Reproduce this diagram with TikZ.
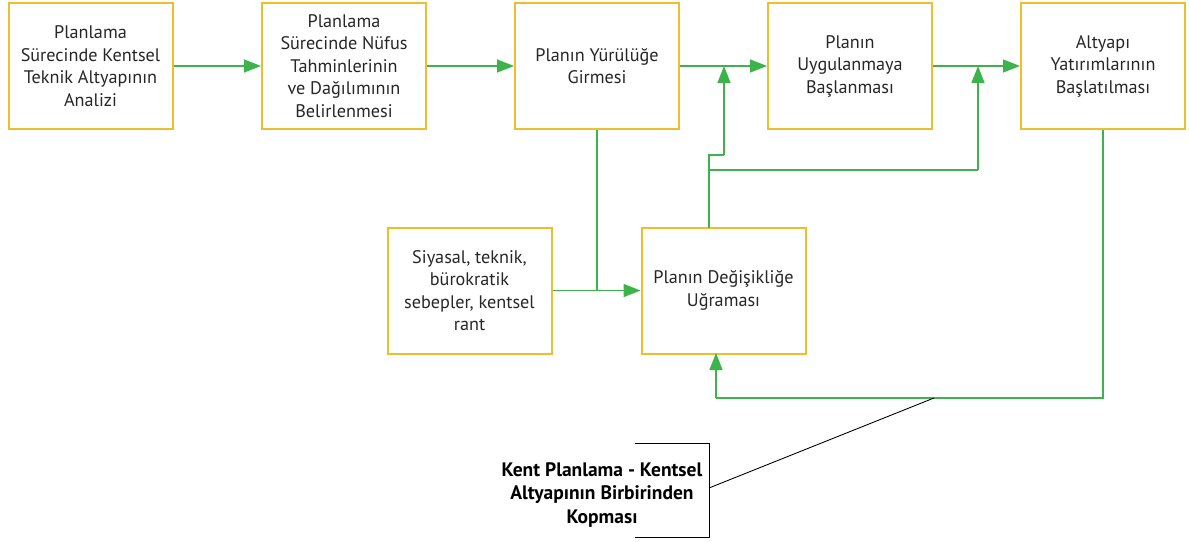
\documentclass[tikz,border=0pt]{standalone}
\usepackage{fontspec}
\setmainfont{PT Sans}
\usetikzlibrary{arrows.meta}
\definecolor{boxy}{RGB}{240,190,44}
\definecolor{gr}{RGB}{60,180,75}
\tikzset{
  box/.style={draw=boxy,line width=2pt,minimum width=164pt,minimum height=126pt,inner sep=2pt,align=center,font=\fontsize{18.2}{22.5}\selectfont,text=black!85},
  conn/.style={draw=gr,line width=1.6pt},
  arr/.style={conn,-{Triangle[length=17pt,width=13pt]}},
}
\begin{document}
\begin{tikzpicture}[x=1pt,y=-1pt]
\useasboundingbox (0,0) rectangle (1189,541);
\node[box] (b1) at (90.5,66) {Planlama\\Sürecinde Kentsel\\Teknik Altyapının\\Analizi};
\node[box] (b2) at (344,66) {Planlama\\Sürecinde Nüfus\\Tahminlerinin\\ve Dağılımının\\Belirlenmesi};
\node[box] (b3) at (597,66) {Planın Yürülüğe\\Girmesi};
\node[box] (b4) at (850,66) {Planın\\Uygulanmaya\\Başlanması};
\node[box] (b5) at (1103,66) {Altyapı\\Yatırımlarının\\Başlatılması};
\node[box] (b6) at (469.5,290.5) {Siyasal, teknik,\\bürokratik\\sebepler, kentsel\\rant};
\node[box] (b7) at (723.5,290.5) {Planın Değişikliğe\\Uğraması};
\node[align=center,font=\bfseries\fontsize{19.5}{23.5}\selectfont] (lbl) at (602,495) {Kent Planlama - Kentsel\\Altyapının Birbirinden\\Kopması};
% coordinates
\coordinate (j1) at (597,290.5);
\coordinate (t7) at (709,228);
\coordinate (s1) at (709,155);
\coordinate (s2) at (724,155);
\coordinate (m34) at (724,66);
\coordinate (s3) at (709,170);
\coordinate (s4) at (978,170);
\coordinate (m45) at (978,66);
\coordinate (s5) at (1103,398);
\coordinate (s6) at (716,398);
\coordinate (bt7) at (716,353);
\coordinate (k1) at (635,443);
\coordinate (k2) at (709,443);
\coordinate (k3) at (709,537);
\coordinate (k4) at (635,537);
\coordinate (k5) at (709,488);
\coordinate (k6) at (934,398);
% connectors
\draw[arr] (b1) -- (b2);
\draw[arr] (b2) -- (b3);
\draw[arr] (b3) -- (b4);
\draw[arr] (b4) -- (b5);
\draw[arr] (b6) -- (b7);
\draw[conn] (b3.south) -- (j1);
\draw[conn] (t7) -- (s1) -- (s2);
\draw[arr] (s2) -- (m34);
\draw[conn] (s3) -- (s4);
\draw[arr] (s4) -- (m45);
\draw[conn] (b5.south) -- (s5) -- (s6);
\draw[arr] (s6) -- (bt7);
\draw[black,line width=0.9pt] (k1) -- (k2) -- (k3) -- (k4);
\draw[black,line width=0.9pt] (k5) -- (k6);
\end{tikzpicture}
\end{document}
